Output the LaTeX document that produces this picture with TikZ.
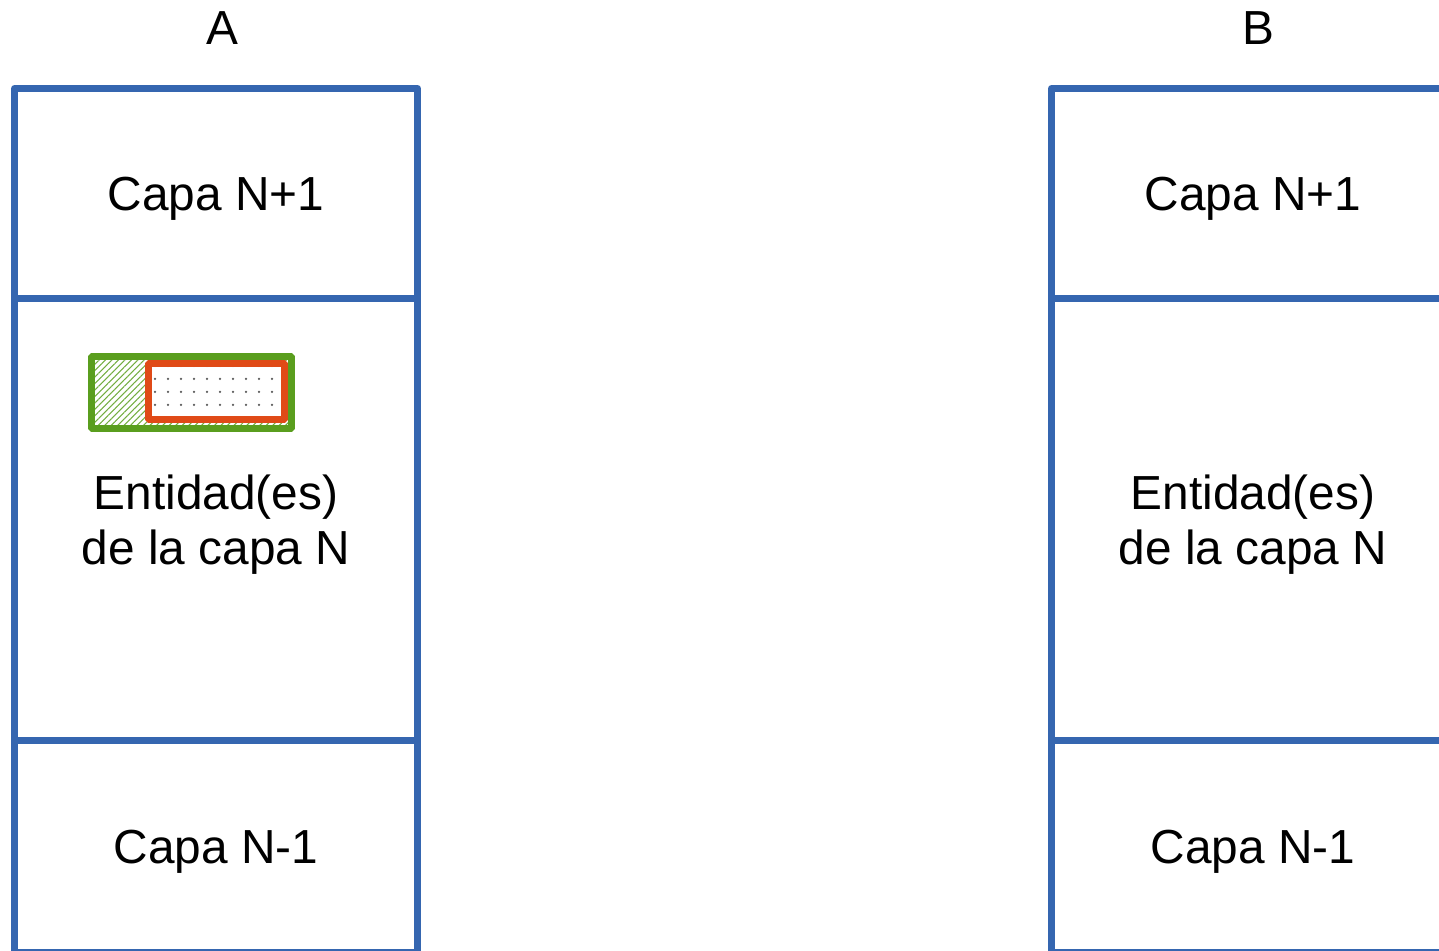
\documentclass[tikz,border=0pt]{standalone}
\usepackage{fontspec}
\setmainfont{Liberation Sans}
\usetikzlibrary{positioning,patterns.meta}
\definecolor{stackblue}{HTML}{3566B0}
\definecolor{pduGreen}{HTML}{5A9E1E}
\definecolor{sduRed}{HTML}{E04A17}
\tikzset{
    layer/.style={draw=stackblue, line width=4pt, line join=round,
        minimum width=8.06cm, inner sep=0pt, outer sep=0pt, align=center,
        text depth=0pt, font=\fontsize{27.2}{31.3}\selectfont},
    title/.style={font=\fontsize{27.2}{31.3}\selectfont},
    pdu/.style={draw=pduGreen, line width=3.8pt, minimum width=4cm,
        minimum height=1.44cm, inner sep=0pt, rounded corners=0.5pt,
        pattern={Lines[angle=45,distance=2.6pt,line width=0.6pt]},
        pattern color=pduGreen!85},
    sdu/.style={draw=sduRed, line width=3.8pt, minimum width=2.72cm,
        minimum height=1.12cm, inner sep=0pt, rounded corners=0.5pt,
        preaction={fill=white},
        pattern={Dots[distance=7.4pt,radius=0.75pt]}, pattern color=gray!70!black}
}
\begin{document}
\begin{tikzpicture}[x=0.02cm,y=-0.02cm]
        \useasboundingbox (0,0) rectangle (1439,950);
        \clip (0,0) rectangle (1439,950);

        % Stack A
        \node[title] (nameA) at (222,28) {A};
        \node[layer, minimum height=4.2cm, anchor=north west] (aTop) at (14.5,88.5) {Capa N+1};
        \node[layer, minimum height=8.85cm, below=0pt of aTop] (aMid) {Entidad(es)\\de la capa N};
        \node[layer, minimum height=4.24cm, below=0pt of aMid] (aBot) {Capa N-1};

        % PDU with its SDU inside
        \node[pdu] (pduA) at (191.5,392.5) {};
        \node[sdu] (sduA) at (216.5,391.5) {};

        % Stack B
        \node[title] (nameB) at (1258,28) {B};
        \node[layer, minimum height=4.2cm, anchor=north west] (bTop) at (1051.5,88.5) {Capa N+1};
        \node[layer, minimum height=8.85cm, below=0pt of bTop] (bMid) {Entidad(es)\\de la capa N};
        \node[layer, minimum height=4.24cm, below=0pt of bMid] (bBot) {Capa N-1};

    \end{tikzpicture}
\end{document}
